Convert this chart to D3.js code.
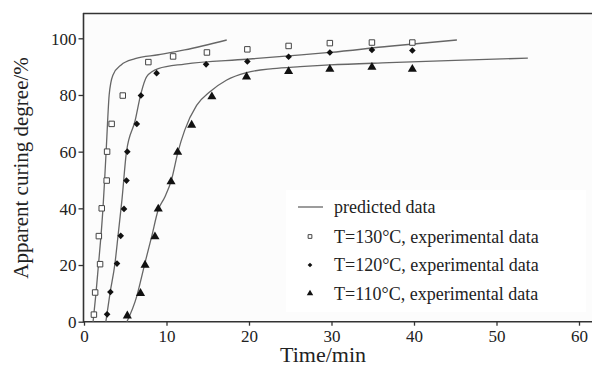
<!DOCTYPE html>
<html>
<head>
<meta charset="utf-8">
<script src="https://cdn.jsdelivr.net/npm/d3@7"></script>
<style>
  body { margin: 0; background: #fff; }
  svg text { font-family: 'Liberation Serif', 'Times New Roman', Tinos, serif !important; fill: #222; }
</style>
</head>
<body>
<div id="chart"></div>
<script>
// experimental data (time in min, curing degree in %)
var t130 = [1.2, 1.35, 1.95, 1.8, 2.15, 2.75, 2.8, 3.35, 4.7, 7.8, 10.8, 14.9, 19.8, 24.8, 29.8, 34.9, 39.8];
var v130 = [2.5, 10.3, 20.3, 30.2, 40, 49.8, 60, 69.8, 79.8, 91.6, 93.6, 95, 96.1, 97.3, 98.3, 98.5, 98.5];
var t120 = [2.8, 3.2, 4.0, 4.45, 4.85, 5.15, 5.25, 6.4, 6.9, 8.8, 14.8, 19.8, 24.8, 29.8, 34.9, 39.8];
var v120 = [2.6, 10.5, 20.5, 30.3, 39.8, 49.8, 60, 69.8, 79.8, 87.7, 90.8, 91.8, 93.5, 95, 95.9, 95.7];
var t110 = [5.25, 6.85, 7.4, 8.6, 9.0, 10.55, 11.35, 13.05, 15.5, 19.7, 24.8, 29.8, 34.9, 39.8];
var v110 = [2.1, 10, 20, 30, 39.8, 49.4, 59.8, 69.4, 79.4, 86.4, 88.3, 89.1, 89.8, 89.1];

// predicted curves
var p130t = [1.1, 1.45, 1.75, 2.05, 2.3, 2.5, 2.7, 2.85, 3.05, 3.5, 4.5, 6.2, 9, 12.2, 17.3];
var p130v = [0, 10, 20, 30, 40, 50, 61, 70, 80, 87, 90.6, 92.8, 94.2, 95.9, 99.4];
var p120t = [2.65, 3.15, 3.75, 4.15, 4.6, 5.15, 6.2, 6.9, 7.6, 9, 12.2, 19.7, 24.8, 29.8, 37, 45.2];
var p120v = [0, 10, 20.5, 31, 43, 60, 71, 80.5, 86.5, 89.3, 90.9, 92.6, 93.8, 95, 97.2, 99.4];
var p110t = [5.2, 6.4, 7.0, 7.5, 8.2, 9.0, 9.8, 10.6, 11.4, 12.2, 13.65, 15.3, 17.3, 19.7, 22.9, 26.2, 29.8, 37, 45, 53.8];
var p110v = [0, 9, 16, 22, 30, 39.5, 44, 50, 60, 67.5, 76.3, 81.2, 85.3, 87.9, 89.3, 90, 90.6, 91.4, 92.2, 93];

var xTicks = [0, 10, 20, 30, 40, 50, 60];
var yTicks = [0, 20, 40, 60, 80, 100];
var legendLabels = ["predicted data", "T=130\u00B0C, experimental data", "T=120\u00B0C, experimental data", "T=110\u00B0C, experimental data"];

var serif = "'Liberation Serif', 'Times New Roman', Tinos, serif";

var svg = d3.select("#chart")
    .append("svg")
    .attr("width", 592)
    .attr("height", 374)
    .attr("font-family", serif);

var x = d3.scaleLinear().domain([0, 60]).range([84, 579]);
var y = d3.scaleLinear().domain([0, 100]).range([321.7, 38.3]);

function zip(ts, vs) {
    return ts.map(function (t, i) { return { t: t, v: vs[i] }; });
}

// plot background
svg.append("rect")
    .attr("x", 84).attr("y", 13)
    .attr("width", 592 - 84).attr("height", 321.7 - 13)
    .attr("fill", "#fcfcfc");

// legend box (slightly whiter)
svg.append("rect")
    .attr("x", 286).attr("y", 190)
    .attr("width", 300).attr("height", 122)
    .attr("fill", "#ffffff");

// top border
svg.append("line")
    .attr("x1", 83).attr("x2", 592)
    .attr("y1", 13.5).attr("y2", 13.5)
    .attr("stroke", "#333").attr("stroke-width", 1.6);

// axes
var xAxis = svg.append("g")
    .attr("transform", "translate(0," + y(0) + ")")
    .call(d3.axisBottom(x).tickValues(xTicks).tickSize(4).tickSizeOuter(0))
    .attr("font-family", serif)
    .attr("font-size", 17);
xAxis.select(".domain").attr("d", "M83,0H592").attr("stroke", "#333").attr("stroke-width", 1.6);
xAxis.selectAll(".tick line").attr("stroke", "#333").attr("stroke-width", 1.3);
xAxis.selectAll(".tick text")
    .attr("dy", "0")
    .attr("y", 20)
    .attr("fill", "#222");

var yAxis = svg.append("g")
    .attr("transform", "translate(" + 83.5 + ",0)")
    .call(d3.axisLeft(y).tickValues(yTicks).tickSize(5).tickSizeOuter(0))
    .attr("font-family", serif)
    .attr("font-size", 17);
yAxis.select(".domain").attr("d", "M0,13V322.5").attr("stroke", "#333").attr("stroke-width", 1.6);
yAxis.selectAll(".tick line").attr("stroke", "#333").attr("stroke-width", 1.3);
yAxis.selectAll(".tick text")
    .attr("x", -7)
    .attr("dy", "0.34em")
    .attr("fill", "#222");

// axis titles
svg.append("text")
    .attr("x", 323).attr("y", 362)
    .style("text-anchor", "middle")
    .style("font-size", "22px")
    .text("Time/min");

svg.append("text")
    .attr("transform", "translate(28,168) rotate(-90)")
    .style("text-anchor", "middle")
    .style("font-size", "21px")
    .text("Apparent curing degree/%");

// predicted lines
var line = d3.line()
    .x(function (d) { return x(d.t); })
    .y(function (d) { return y(d.v); })
    .curve(d3.curveMonotoneX);

[[p130t, p130v], [p120t, p120v], [p110t, p110v]].forEach(function (s) {
    svg.append("path")
        .datum(zip(s[0], s[1]))
        .attr("fill", "none")
        .attr("stroke", "#666")
        .attr("stroke-width", 1.3)
        .attr("d", line);
});

// markers
var sq = d3.symbol().type(d3.symbolSquare).size(30);
var dia = d3.symbol().type(d3.symbolSquare).size(22);   // rotated 45deg below
var tri = d3.symbol().type(d3.symbolTriangle).size(36);

svg.append("g").selectAll("path")
    .data(zip(t130, v130))
    .enter().append("path")
    .attr("transform", function (d) { return "translate(" + x(d.t) + "," + y(d.v) + ")"; })
    .attr("d", sq)
    .attr("fill", "#fff")
    .attr("stroke", "#444")
    .attr("stroke-width", 1);

svg.append("g").selectAll("path")
    .data(zip(t120, v120))
    .enter().append("path")
    .attr("transform", function (d) { return "translate(" + x(d.t) + "," + y(d.v) + ") rotate(45)"; })
    .attr("d", dia)
    .attr("fill", "#111");

svg.append("g").selectAll("path")
    .data(zip(t110, v110))
    .enter().append("path")
    .attr("transform", function (d) { return "translate(" + x(d.t) + "," + y(d.v) + ")"; })
    .attr("d", tri)
    .attr("fill", "#111");

// legend
var legend = svg.append("g");
var rowY = [207, 236.5, 265, 293.5];

legend.append("line")
    .attr("x1", 298).attr("x2", 323)
    .attr("y1", rowY[0]).attr("y2", rowY[0])
    .attr("stroke", "#666").attr("stroke-width", 1.3);
legend.append("path")
    .attr("transform", "translate(310," + rowY[1] + ")")
    .attr("d", d3.symbol().type(d3.symbolSquare).size(14))
    .attr("fill", "#fff").attr("stroke", "#444");
legend.append("path")
    .attr("transform", "translate(310," + rowY[2] + ") rotate(45)")
    .attr("d", d3.symbol().type(d3.symbolSquare).size(11))
    .attr("fill", "#111");
legend.append("path")
    .attr("transform", "translate(310," + rowY[3] + ")")
    .attr("d", d3.symbol().type(d3.symbolTriangle).size(18))
    .attr("fill", "#111");

legend.selectAll("text")
    .data(legendLabels)
    .enter().append("text")
    .attr("x", 334)
    .attr("y", function (d, i) { return rowY[i]; })
    .attr("dy", "0.35em")
    .style("font-size", "18px")
    .text(function (d) { return d; });
</script>
</body>
</html>
